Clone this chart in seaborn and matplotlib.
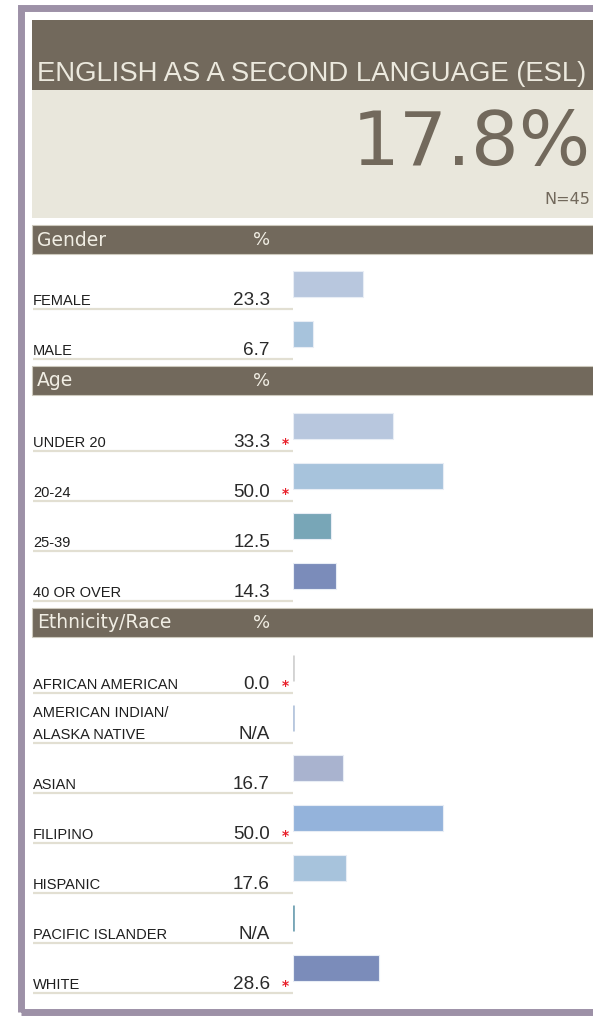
import numpy as np
import pandas as pd
import matplotlib
matplotlib.use('Agg')
import matplotlib.pyplot as plt
import seaborn as sns
from matplotlib.patches import Rectangle
from matplotlib import font_manager
from matplotlib.transforms import blended_transform_factory

# --- data ---
title = "ENGLISH AS A SECOND LANGUAGE (ESL)"
overall_pct = "17.8%"
overall_n = "N=45"

gender_labels = ["FEMALE", "MALE"]
gender_pct = [23.3, 6.7]
gender_sig = [False, False]
gender_colors = ["#b8c7de", "#a7c3dc"]

age_labels = ["UNDER 20", "20-24", "25-39", "40 OR OVER"]
age_pct = [33.3, 50.0, 12.5, 14.3]
age_sig = [True, True, False, False]
age_colors = ["#b8c7de", "#a7c3dc", "#78a6b7", "#7b8cba"]

eth_labels = ["AFRICAN AMERICAN", "AMERICAN INDIAN/\nALASKA NATIVE", "ASIAN", "FILIPINO",
              "HISPANIC", "PACIFIC ISLANDER", "WHITE"]
eth_pct = [0.0, np.nan, 16.7, 50.0, 17.6, np.nan, 28.6]
eth_sig = [True, False, False, True, False, False, True]
eth_colors = ["#d3d3d3", "#b8c7de", "#a9b3cf", "#94b3db", "#a7c3dc", "#78a6b7", "#7b8cba"]

# --- look ---
W, H = 593, 1016
DARK = "#72695c"
BEIGE = "#e9e7dc"
FRAME = "#9d91a7"
RULE = "#e2dfd2"

sns.set_theme(style="white")
names = {f.name for f in font_manager.fontManager.ttflist}
NARROW = "Liberation Sans Narrow" if "Liberation Sans Narrow" in names else "Liberation Sans"
nscale = 1.0 if NARROW == "Liberation Sans Narrow" else 0.88
plt.rcParams['font.family'] = ['DejaVu Sans']


def fx(x):
    return x / W


def fy(y):
    return 1 - y / H


def rect(x0, y0, x1, y1, **kw):
    fig.add_artist(Rectangle((fx(x0), fy(y1)), (x1 - x0) / W, (y1 - y0) / H,
                             transform=fig.transFigure, **kw))


def fit_width(t, target):
    r = fig.canvas.get_renderer()
    w = t.get_window_extent(r).width
    t.set_fontsize(t.get_fontsize() * target / w)


fig = plt.figure(figsize=(W / 100, H / 100), dpi=100)
fig.patch.set_facecolor("white")

# outer frame
rect(20.5, 7.5, 640, 1012, facecolor="none", edgecolor=FRAME, lw=5)

# title block
rect(32, 20, 600, 90, facecolor=DARK, edgecolor="none")
rect(32, 90, 600, 218, facecolor=BEIGE, edgecolor="none")
t = fig.text(fx(37), fy(81), title, color="#ece9de", fontsize=20, ha="left", va="baseline",
             family="Liberation Sans")
fit_width(t, 551)
t = fig.text(fx(591), fy(165), overall_pct, color=DARK, fontsize=60, ha="right", va="baseline")
fit_width(t, 240)
fig.text(fx(590), fy(204), overall_n, color=DARK, fontsize=11.5, ha="right", va="baseline")

sections = [
    ("Gender", gender_labels, gender_pct, gender_sig, gender_colors, 225, 259),
    ("Age", age_labels, age_pct, age_sig, age_colors, 366, 401),
    ("Ethnicity/Race", eth_labels, eth_pct, eth_sig, eth_colors, 608, 643),
]

for head, labels, pct, sig, colors, band_top, rows_top in sections:
    rect(32, band_top, 600, band_top + 29, facecolor=DARK, edgecolor="#cdc9bd", lw=0.8)
    fig.text(fx(37), fy(band_top + 15), head, color="#f1eee4", fontsize=13.5,
             ha="left", va="center")
    fig.text(fx(262), fy(band_top + 15), "%", color="#f1eee4", fontsize=13,
             ha="center", va="center")

    n = len(labels)
    ax = fig.add_axes([fx(293), fy(rows_top + 50 * n), 300 / W, 50 * n / H])
    df = pd.DataFrame({"label": labels, "value": pd.Series(pct, dtype=float).fillna(0)})
    sns.barplot(data=df, x="value", y="label", hue="label", palette=colors, orient="h",
                width=0.52, saturation=1, legend=False, ax=ax)
    ax.set_xlim(0, 100)
    ax.set_ylim(n - 0.5, -0.5)
    ax.axis("off")
    for p in ax.patches:
        if p.get_width() == 0:
            p.set_edgecolor(p.get_facecolor())
            p.set_linewidth(2)
        else:
            p.set_edgecolor("#e8edf5")
            p.set_linewidth(0.8)

    tr = blended_transform_factory(fig.transFigure, ax.transData)
    for i, (lab, v, s) in enumerate(zip(labels, pct, sig)):
        ax.plot([fx(33), fx(293)], [i + 0.5, i + 0.5], transform=tr, color=RULE,
                lw=1.6, clip_on=False, solid_capstyle="butt")
        lines = lab.split("\n")
        for k, line in enumerate(reversed(lines)):
            ax.text(fx(33), i + 0.42 - 0.44 * k, line, transform=tr, family=NARROW,
                    fontsize=12 * nscale, color="#1e1e1e", ha="left", va="baseline",
                    clip_on=False)
        txt = "N/A" if np.isnan(v) else f"{v:.1f}"
        ax.text(fx(270), i + 0.42, txt, transform=tr, family=NARROW,
                fontsize=15.5 * nscale, color="#2a2a2a", ha="right", va="baseline",
                clip_on=False)
        if s:
            ax.text(fx(285), i + 0.36, "*", transform=tr, fontsize=10, color="#e8202a",
                    ha="center", va="center", fontweight="bold", clip_on=False)

fig.savefig("out.png", dpi=100)
